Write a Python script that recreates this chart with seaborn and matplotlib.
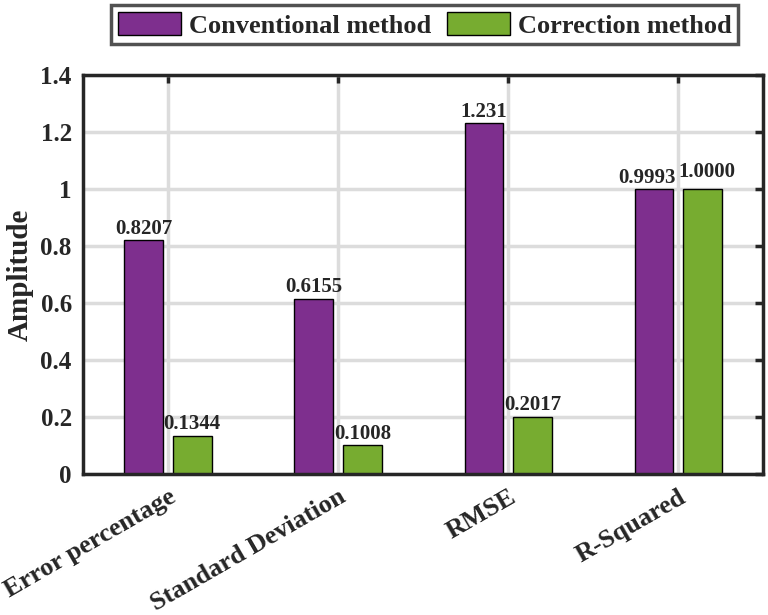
import pandas as pd
import seaborn as sns
import matplotlib.pyplot as plt

# Dữ liệu
metrics = ['Error percentage', 'Standard Deviation', 'RMSE', 'R-Squared']
conventional = [0.8207, 0.6155, 1.231, 0.9993]
correction = [0.1344, 0.1008, 0.2017, 1.0000]
conventional_labels = ['0.8207', '0.6155', '1.231', '0.9993']
correction_labels = ['0.1344', '0.1008', '0.2017', '1.0000']
methods = ['Conventional method', 'Correction method']
colors = ['#7E2F8E', '#77AC30']

df = pd.DataFrame({
    'metric': metrics * 2,
    'value': conventional + correction,
    'method': [methods[0]] * 4 + [methods[1]] * 4,
})

sns.set_style('white')
plt.rcParams['font.family'] = ['Liberation Serif', 'DejaVu Serif']
plt.rcParams['font.weight'] = 'bold'
plt.rcParams['axes.labelweight'] = 'bold'

fig = plt.figure(figsize=(7.68, 6.15), dpi=100)
ax = fig.add_axes([0.108, 0.229, 0.886, 0.649])

sns.barplot(data=df, x='metric', y='value', hue='method', order=metrics,
            hue_order=methods, palette=colors, width=0.57, gap=0.2,
            edgecolor='black', linewidth=1.0, saturation=1, ax=ax)

# Nhãn giá trị trên cột
ann1 = ax.bar_label(ax.containers[0], labels=conventional_labels, padding=1,
                    fontsize=15, fontweight='bold')
ann2 = ax.bar_label(ax.containers[1], labels=correction_labels, padding=1,
                    fontsize=15, fontweight='bold')
# hai nhãn R-Squared được dịch ra để không chồng nhau
ann1[3].xyann = (-5, 1)
ann2[3].xyann = (3, 5)

ax.set_xlim(-0.5, 3.5)
ax.set_ylim(0, 1.4)
ax.set_yticks([0, 0.2, 0.4, 0.6, 0.8, 1, 1.2, 1.4])
ax.set_yticklabels(['0', '0.2', '0.4', '0.6', '0.8', '1', '1.2', '1.4'])
ax.set_xlabel('')
ax.set_ylabel('Amplitude', fontsize=21, fontweight='bold', labelpad=5)

ax.grid(True, color='#dcdcdc', linewidth=2.5)
ax.set_axisbelow(True)
for s in ax.spines.values():
    s.set_linewidth(2.5)
    s.set_color('#262626')
    s.set_visible(True)
ax.tick_params(direction='in', length=6, width=2.5, top=True, right=True,
               labelsize=18, color='#262626')
ax.tick_params(axis='y', pad=8)
ax.tick_params(axis='x', pad=8, labelsize=19)
plt.setp(ax.get_xticklabels(), rotation=30, ha='right', va='top',
         rotation_mode='anchor', fontweight='bold')
plt.setp(ax.get_yticklabels(), fontweight='bold')

sns.move_legend(ax, 'center', bbox_to_anchor=(0.553, 0.96),
                bbox_transform=fig.transFigure, ncol=2, title=None,
                frameon=True, fancybox=False, fontsize=19,
                handlelength=2.4, handleheight=1.0, handletextpad=0.3,
                columnspacing=0.6, borderpad=0.25, borderaxespad=0)
leg = ax.get_legend()
leg.get_frame().set_edgecolor('#262626')
leg.get_frame().set_linewidth(2.5)
for t in leg.get_texts():
    t.set_fontweight('bold')

fig.savefig('out.png', dpi=100)
